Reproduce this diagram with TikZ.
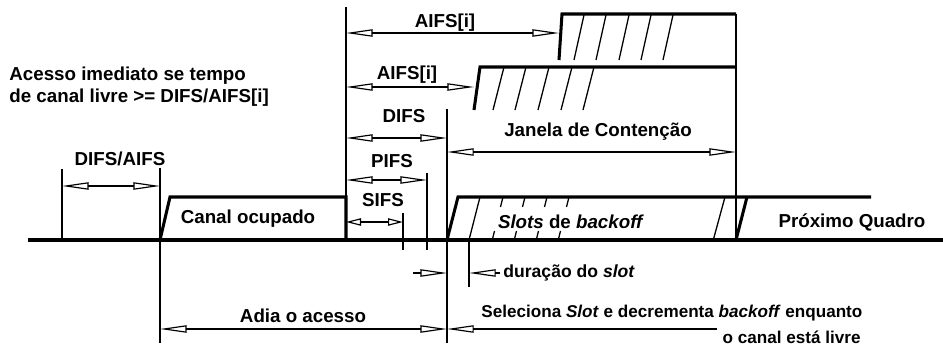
\documentclass[tikz,border=0pt]{standalone}
\usepackage{fontspec}
\setmainfont{Liberation Sans}
\usetikzlibrary{arrows.meta}

\begin{document}
\begin{tikzpicture}[x=0.03cm, y=-0.03cm,
    every node/.style={font=\fontsize{16}{19}\selectfont\bfseries, inner sep=1pt},
    signal/.style={line width=2.6pt, line join=miter},
    guide/.style={line width=1.1pt},
    hatch/.style={line width=1.1pt},
    dimarrow/.style={line width=1pt, {Triangle[open,length=8mm,width=2.2mm]}-{Triangle[open,length=8mm,width=2.2mm]}},
    shortdim/.style={line width=1pt, {Triangle[open,length=4.5mm,width=2.2mm]}-{Triangle[open,length=4.5mm,width=2.2mm]}},
    halfarrow/.style={line width=1pt, -{Triangle[open,length=8mm,width=2.2mm]}}]
    \useasboundingbox (0,0) rectangle (943,347);

    % time marks on the channel line
    \coordinate (t0) at (62,240);
    \coordinate (t1) at (160,240);
    \coordinate (t2) at (346,240);
    \coordinate (tS) at (403,240);
    \coordinate (tP) at (427,240);
    \coordinate (tD) at (447,240);
    \coordinate (tL) at (469,240);
    \coordinate (tE) at (736,240);
    \coordinate (aifsA) at (474,87);
    \coordinate (aifsB) at (559,33);

    % guides
    \draw[guide] (t0) -- (t0 |- 0,169);
    \draw[guide] (t1 |- 0,168) -- (t1 |- 0,343);
    \draw[guide] (t2) -- (t2 |- 0,7);
    \draw[guide] (tS |- 0,213) -- (tS |- 0,250);
    \draw[guide] (tP |- 0,173) -- (tP |- 0,250);
    \draw[guide] (tD |- 0,109) -- (tD |- 0,343);
    \draw[guide] (tL) -- (tL |- 0,287);
    \draw[guide] (tE) -- (tE |- 0,14);

    % channel line and busy medium
    \draw[signal] (28,240) -- (943,240);
    \draw[signal] (t1) -- (170,197) -- (346,197) -- (t2);
    \node (busy) at (248,219) {Canal ocupado};

    % backoff slots
    \draw[signal] (tD) -- (458,197) -- (871,197);
    \draw[hatch] (tL) -- (480,197);
    \foreach \x in {492,514,536,558} {
        \draw[hatch] (\x,241) -- (\x+2.5,231);
        \draw[hatch] (\x+11,197) -- (\x+8.5,207);
    }
    \draw[hatch] (713,241) -- (725,197);
    \draw[signal] (tE) -- (747,197);
    \node (slots) at (571,222) {\textit{Slots} de \textit{backoff}};
    \node (next) at (852,222) {Próximo Quadro};

    % AIFS windows
    \draw[signal] (aifsA |- 0,110) -- (480,67) -- (736,67);
    \foreach \x in {493,515,538,561,583}
        \draw[hatch] (\x,110) -- (\x+11,67);
    \draw[signal] (aifsB |- 0,60) -- (562,14) -- (736,14);
    \foreach \x in {574,596,619,641,663}
        \draw[hatch] (\x,60) -- (\x+10,15);

    % interframe spaces
    \draw[dimarrow] (t0 |- 0,186) -- (t1 |- 0,186);
    \node (difsaifs) at (120,159) {DIFS/AIFS};
    \draw[dimarrow] (t2 |- aifsB) -- (aifsB);
    \node (aifsup) at (445,23) {AIFS[i]};
    \draw[dimarrow] (t2 |- aifsA) -- (aifsA);
    \node (aifslo) at (407,75) {AIFS[i]};
    \draw[dimarrow] (t2 |- 0,138) -- (tD |- 0,138);
    \node (difs) at (404,116) {DIFS};
    \draw[dimarrow] (t2 |- 0,180) -- (tP |- 0,180);
    \node (pifs) at (392,161) {PIFS};
    \draw[shortdim] (t2 |- 0,222) -- (tS |- 0,222);
    \node (sifs) at (383,200) {SIFS};
    \draw[dimarrow] (tD |- 0,152) -- (tE |- 0,152);
    \node (janela) at (598,132) {Janela de Contenção};

    % slot time
    \draw[halfarrow] (413,273) -- (tD |- 0,273);
    \draw[halfarrow] (500,273) -- (tL |- 0,273);
    \node[anchor=base west, font=\fontsize{15}{18}\selectfont\bfseries] (slotdur) at (502,278) {duração do \textit{slot}};

    % defer and backoff
    \draw[dimarrow] (t1 |- 0,329) -- (tD |- 0,329);
    \node[anchor=base] (adia) at (303,323) {Adia o acesso};
    \draw[halfarrow] (717,329) -- (tD |- 0,329);
    \node[anchor=base west, font=\fontsize{14.6}{17}\selectfont\bfseries] (seleciona) at (480,318) {Seleciona \textit{Slot} e decrementa \textit{backoff} enquanto};
    \node[anchor=base east, font=\fontsize{14.6}{17}\selectfont\bfseries] (livre) at (862,344) {o canal está livre};

    \node[anchor=west, align=left] (rule) at (8,87) {Acesso imediato se tempo\\de canal livre >= DIFS/AIFS[i]};
\end{tikzpicture}
\end{document}
